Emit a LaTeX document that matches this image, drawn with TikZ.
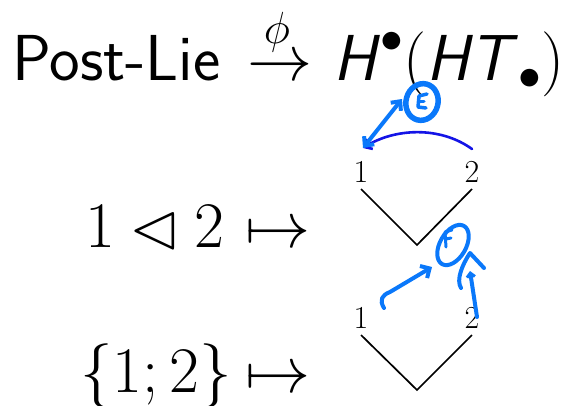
\RequirePackage{fix-cm}
\documentclass[tikz,border=0pt]{standalone}
\usepackage{amsmath}
\usepackage{amssymb}
\usetikzlibrary{arrows.meta}
\definecolor{hand}{RGB}{10,120,250}
\definecolor{handdark}{RGB}{20,20,230}
\begin{document}
\begin{tikzpicture}[x=1pt,y=-1pt,
  big/.style={inner sep=0pt, font=\fontsize{65}{70}\selectfont},
  mid/.style={inner sep=0pt, font=\fontsize{45}{50}\selectfont},
  small/.style={inner sep=0pt, font=\fontsize{32}{36}\selectfont},
  tree/.style={line width=1.7pt},
  pen/.style={hand, line width=4pt, line cap=round, line join=round},
  darkpen/.style={handdark, line width=2.6pt, line cap=round, line join=round}]
\useasboundingbox (0,0) rectangle (575,405);
% top line
\node[big, anchor=base west] (post) at (12,80) {\sffamily Post-Lie};
\node[big, anchor=base] (arr) at (280,80) {$\rightarrow$};
\node[mid] (phi) at (277,32) {$\phi$};
\node[big, anchor=base west] (coh) at (333,80) {$\textsf{\textit{H}}^{\bullet}(\textsf{\textit{HT}}_{\bullet})$};
% left column
\node[big, anchor=base west] (rel) at (85,247) {$\text{1}\lhd \text{2}$};
\node[big, anchor=base west] (m1) at (245,247) {$\mapsto$};
\node[big, anchor=base west] (set) at (80,392) {$\{\text{1};\text{2}\}$};
\node[big, anchor=base west] (m2) at (245,392) {$\mapsto$};
% trees
\node[small] (a1) at (361,172) {1};
\node[small] (a2) at (472,172) {2};
\coordinate (a1t) at (361,189);
\coordinate (a2t) at (472,189);
\coordinate (av) at (417,245);
\draw[tree] (a1t) -- (av) -- (a2t);
\node[small] (b1) at (361,318) {1};
\node[small] (b2) at (472,318) {2};
\coordinate (b1t) at (361,335);
\coordinate (b2t) at (472,335);
\coordinate (bv) at (417,390);
\draw[tree] (b1t) -- (bv) -- (b2t);
% top annotations
\coordinate (p1) at (472,149);
\coordinate (p2) at (363,148);
\coordinate (p3) at (402,99);
\draw[darkpen, -{Straight Barb[length=6pt, width=12pt, line width=2.6pt]}] (p1) .. controls (440,126) and (395,128) .. (p2);
\draw[pen, {Straight Barb[length=7pt, width=13pt, line width=4pt]}-{Straight Barb[length=7pt, width=13pt, line width=4pt]}] (p2) -- (p3);
\draw[pen, line width=5.5pt] (422,102) ellipse [x radius=16pt, y radius=18.5pt, rotate=-15];
\draw[pen, line width=3.5pt] (427,94) -- (419,96) -- (418,107) -- (426,108);
\draw[pen, line width=3pt] (419,101) -- (424,101);
% bottom annotations
\draw[pen] (453,245) ellipse [x radius=13pt, y radius=22pt, rotate=-30];
\draw[pen, line width=3pt] (452,230) -- (445,232) -- (446,247);
\draw[pen, line width=3pt] (446,239) -- (451,238);
\draw[pen, -{Straight Barb[length=7pt, width=14pt, line width=4pt]}] (384,308) .. controls (379,300) and (382,295) .. (390,292) -- (432,267);
\draw[pen, -{Straight Barb[length=4pt, width=8pt, line width=3pt]}] (477,317) -- (470,271);
\draw[pen] (461,288) .. controls (456,280) and (462,265) .. (470,253) -- (484,268);
\end{tikzpicture}
\end{document}
